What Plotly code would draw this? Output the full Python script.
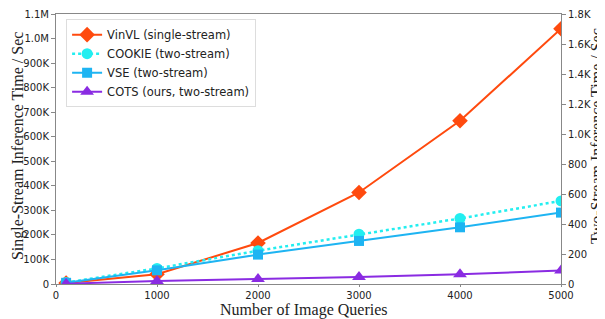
import plotly.graph_objects as go

queries = [100, 1000, 2000, 3000, 4000, 5000]
vinvl = [4000, 40000, 167000, 373000, 665000, 1040000]
cookie = [10, 104, 222, 332, 437, 554]
vse = [8, 91, 196, 287, 378, 476]
cots = [2, 20, 33, 46, 65, 90]

left_vals = [i * 100000 for i in range(12)]
left_text = ["0", "100K", "200K", "300K", "400K", "500K", "600K", "700K", "800K", "900K", "1.0M", "1.1M"]
right_vals = [0, 200, 400, 600, 800, 1000, 1200, 1400, 1600, 1800]
right_text = ["0", "200", "400", "600", "800", "1.0K", "1.2K", "1.4K", "1.6K", "1.8K"]
x_vals = [0, 1000, 2000, 3000, 4000, 5000]

fig = go.Figure()
fig.add_trace(go.Scatter(x=queries, y=vinvl, name="VinVL (single-stream)", mode="lines+markers",
                         line=dict(color="#FF4A0E", width=2),
                         marker=dict(symbol="diamond", size=12, color="#FF4A0E"), yaxis="y"))
fig.add_trace(go.Scatter(x=queries, y=cookie, name="COOKIE (two-stream)", mode="lines+markers",
                         line=dict(color="#22EEF0", width=2.5, dash="dot"),
                         marker=dict(symbol="circle", size=11, color="#22EEF0"), yaxis="y2"))
fig.add_trace(go.Scatter(x=queries, y=vse, name="VSE (two-stream)", mode="lines+markers",
                         line=dict(color="#1EB4F2", width=2),
                         marker=dict(symbol="square", size=10, color="#1EB4F2"), yaxis="y2"))
fig.add_trace(go.Scatter(x=queries, y=cots, name="COTS (ours, two-stream)", mode="lines+markers",
                         line=dict(color="#8A2BE2", width=2),
                         marker=dict(symbol="triangle-up", size=12, color="#8A2BE2"), yaxis="y2"))

axis_common = dict(showline=True, linecolor="#888888", linewidth=1, ticks="outside",
                   tickcolor="#888888", showgrid=False, zeroline=False,
                   automargin=False, ticklabeloverflow="allow",
                   tickfont=dict(family="DejaVu Sans", size=10, color="#222"))

title_font = dict(family="Liberation Serif", size=16, color="#222")

fig.update_layout(
    width=597, height=311,
    margin=dict(l=48, r=44, t=6, b=35),
    paper_bgcolor="white", plot_bgcolor="white",
    showlegend=True,
    legend=dict(x=0.02, y=0.981, xanchor="left", yanchor="top",
                bgcolor="rgba(255,255,255,0.9)", bordercolor="#dddddd", borderwidth=1,
                font=dict(family="DejaVu Sans", size=11.5, color="#222"),
                tracegroupgap=0, itemwidth=30),
    xaxis=dict(range=[0, 5000], tickvals=x_vals, mirror=True, ticklen=2, **axis_common),
    yaxis=dict(range=[0, 1100000], tickvals=left_vals, ticktext=left_text, ticklen=4, **axis_common),
    yaxis2=dict(range=[0, 1800], tickvals=right_vals, ticktext=right_text, overlaying="y", side="right",
                ticklen=4, **axis_common),
    annotations=[
        dict(text="Number of Image Queries", xref="paper", yref="paper", x=0.491, y=-0.0963,
             xanchor="center", yanchor="middle", showarrow=False, font=title_font),
        dict(text="Single-Stream Inference Time / Sec", xref="paper", yref="paper", x=-0.0752, y=0.511,
             xanchor="center", yanchor="middle", textangle=-90, showarrow=False, font=title_font),
        dict(text="Two-Stream Inference Time / Sec", xref="paper", yref="paper", x=1.069, y=0.548,
             xanchor="center", yanchor="middle", textangle=-90, showarrow=False, font=title_font),
    ],
)

fig.write_html("out.html")
